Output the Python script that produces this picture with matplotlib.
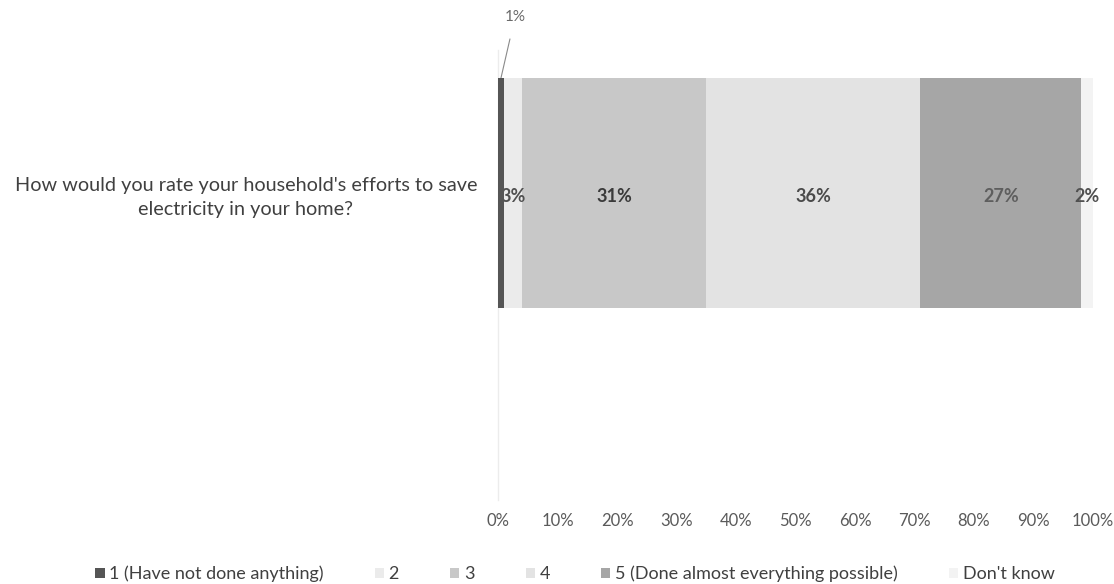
import matplotlib
matplotlib.use("Agg")
import matplotlib.pyplot as plt
from matplotlib.patches import Patch

plt.rcParams['font.family'] = ['Lato', 'DejaVu Sans']

# Survey responses (share of households, %)
question = "How would you rate your household's efforts to save\nelectricity in your home?"
categories = ["1 (Have not done anything)", "2", "3", "4",
              "5 (Done almost everything possible)", "Don't know"]
shares = [1, 3, 31, 36, 27, 2]
colors = ["#555555", "#ebebeb", "#c8c8c8", "#e3e3e3", "#a6a6a6", "#f3f3f3"]
label_colors = ["#505050", "#505050", "#3a3a3a", "#4a4a4a", "#5e5e5e", "#505050"]
x_ticks = [0, 10, 20, 30, 40, 50, 60, 70, 80, 90, 100]

W, H = 1114, 584
fig = plt.figure(figsize=(W / 100, H / 100), dpi=100)
ax_l, ax_r, ax_t, ax_b = 498, 1093, 50, 500
ax = fig.add_axes([ax_l / W, 1 - ax_b / H, (ax_r - ax_l) / W, (ax_b - ax_t) / H])

bar_h = 0.6
left = 0
for i, (val, col) in enumerate(zip(shares, colors)):
    ax.barh(0, val, left=left, height=bar_h, color=col, edgecolor="none",
            zorder=4 if i == 0 else 2)
    centre = left + val / 2
    if i == 0:
        # smallest segment gets an offset label with a leader line
        ax.annotate(f"{val}%", xy=(centre, bar_h / 2), xytext=(515, H - 17),
                    textcoords="figure pixels",
                    ha="center", va="center", fontsize=11, color="#6a6a6a",
                    arrowprops=dict(arrowstyle="-", color="#8a8a8a", lw=0.8,
                                    shrinkA=9, shrinkB=0),
                    annotation_clip=False)
    else:
        ax.text(centre, -0.01, f"{val}%", ha="center", va="center", fontsize=13,
                fontweight="bold", color=label_colors[i], zorder=3)
    left += val

ax.set_xlim(0, 100)
ax.set_ylim(-0.801, 0.373)
ax.set_xticks(x_ticks)
ax.set_xticklabels([f"{t}%" for t in x_ticks], fontsize=12, color="#5a5a5a")
ax.tick_params(axis="x", length=0, pad=9)
ax.set_yticks([0])
ax.set_yticklabels([question], fontsize=14.3, color="#404040",
                   multialignment="center", linespacing=1.45)
ax.tick_params(axis="y", length=0, pad=15)

for side in ("top", "right", "bottom"):
    ax.spines[side].set_visible(False)
ax.spines["left"].set_color("#ececec")
ax.spines["left"].set_linewidth(1.0)

handles = [Patch(facecolor=c, edgecolor="none") for c in colors]
fig.legend(handles, categories, loc="center", bbox_to_anchor=(575 / W, 1 - 574 / H),
           ncol=6, frameon=False, fontsize=13, labelcolor="#404040",
           handlelength=0.5, handleheight=0.5, handletextpad=0.25,
           columnspacing=2.85)

fig.savefig("out.png", dpi=100, facecolor="white")
